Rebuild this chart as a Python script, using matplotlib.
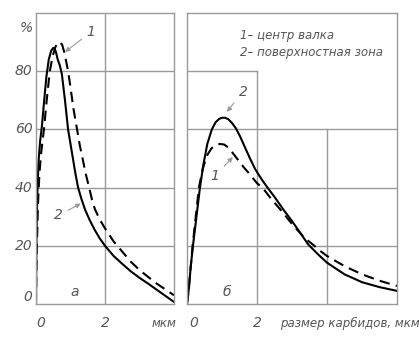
import matplotlib.pyplot as plt

# панель а: центр валка (1, штрих) и поверхностная зона (2, сплошная)
a_x_surf = [0, 0.005, 0.015, 0.03, 0.05, 0.08, 0.12, 0.17, 0.23, 0.3, 0.37, 0.44, 0.5, 0.54, 0.58,
            0.63, 0.69, 0.75, 0.84, 0.93, 1.0, 1.07, 1.14, 1.22, 1.32, 1.42, 1.55, 1.7, 1.85, 2.0,
            2.25, 2.5, 2.75, 3.0, 3.25, 3.5, 3.75, 4.0]
a_y_surf = [0, 10, 22, 33, 42, 50, 56, 61, 69, 78, 84, 87, 88, 87.8, 86.5,
            84, 82, 79, 70, 60, 55, 50, 45, 40, 36, 32.5, 29, 25.5, 22.5, 20,
            16.5, 13.8, 11.2, 9, 7, 4.9, 2.8, 0.7]
a_x_center = [0, 0.01, 0.03, 0.06, 0.1, 0.15, 0.23, 0.31, 0.4, 0.48, 0.56, 0.63, 0.7, 0.76, 0.82,
              0.88, 0.93, 1.0, 1.08, 1.19, 1.27, 1.35, 1.44, 1.54, 1.62, 1.71, 1.85, 2.0,
              2.25, 2.5, 2.75, 3.0, 3.25, 3.5, 3.75, 4.0]
a_y_center = [0, 10, 22, 35, 45, 52, 60, 70, 80, 85, 88.3, 89.7, 90, 89, 86.5,
              83, 80, 74.5, 67.5, 60, 54.5, 50, 44.8, 40, 36, 32.5, 29, 26,
              21.5, 18, 14.5, 11.7, 9.3, 7, 5, 3]

# панель б
b_x_surf = [0, 0.03, 0.06, 0.1, 0.17, 0.27, 0.37, 0.47, 0.58, 0.71, 0.82, 0.92, 1.0, 1.09, 1.18,
            1.28, 1.4, 1.52, 1.65, 1.8, 1.95, 2.14, 2.3, 2.5, 2.75, 3.0, 3.25, 3.46, 3.75, 4.0,
            4.5, 5.0, 5.5, 6.0]
b_y_surf = [0, 3, 6, 12, 20, 30, 40, 48, 55, 60, 62.5, 63.6, 64, 64, 63.5,
            62.3, 60.3, 57.5, 54, 50, 46.3, 42.7, 40, 36.8, 32.5, 28.5, 24.2, 20.5, 17, 14.2,
            10.2, 7.5, 5.8, 4.5]
b_x_center = [0, 0.03, 0.06, 0.1, 0.16, 0.25, 0.34, 0.45, 0.57, 0.7, 0.82, 0.94, 1.06, 1.18, 1.3,
              1.46, 1.62, 1.8, 2.0, 2.17, 2.4, 2.7, 3.0, 3.2, 3.37, 3.6, 3.8, 4.0,
              4.5, 5.0, 5.5, 6.0]
b_y_center = [0, 3, 7, 12, 20, 30, 40, 46.5, 51, 53.5, 54.6, 55, 54.8, 53.8, 52,
              49.5, 47, 44.5, 41.5, 39.8, 36.2, 32, 27.5, 24.8, 22.6, 20.4, 18.3, 16.5,
              13, 10.2, 8, 6.2]

y_ticks = [0, 20, 40, 60, 80]
legend_lines = ['1– центр валка', '2– поверхностная зона']

TXT = '#555555'
GRID = '#9a9a9a'
FONT = dict(family='DejaVu Sans', style='italic', color=TXT)

fig = plt.figure(figsize=(4.19, 3.38), dpi=100)
ax1 = fig.add_axes([36 / 419, 34 / 338, 138 / 419, 291 / 338])
ax2 = fig.add_axes([187 / 419, 34 / 338, 210 / 419, 291 / 338])

for ax, xmax in ((ax1, 4), (ax2, 6)):
    ax.set_xlim(0, xmax)
    ax.set_ylim(0, 100)
    for s in ax.spines.values():
        s.set_color(GRID)
        s.set_linewidth(1.0)
    ax.set_xticks([])
    ax.set_yticks([])

# сетка
for y in (20, 40, 60, 80):
    ax1.axhline(y, color=GRID, lw=1.0, zorder=0)
ax1.axvline(2, color=GRID, lw=1.0, zorder=0)
for y in (20, 40, 60):
    ax2.axhline(y, color=GRID, lw=1.0, zorder=0)
ax2.axhline(80, xmax=2 / 6, color=GRID, lw=1.0, zorder=0)
ax2.axvline(2, ymax=0.8, color=GRID, lw=1.0, zorder=0)
ax2.axvline(4, ymax=0.6, color=GRID, lw=1.0, zorder=0)

# кривые
ax1.plot(a_x_surf, a_y_surf, color='black', lw=1.5)
ax1.plot(a_x_center, a_y_center, color='black', lw=1.5, dashes=(5, 3))
ax2.plot(b_x_surf, b_y_surf, color='black', lw=1.5)
ax2.plot(b_x_center, b_y_center, color='black', lw=1.5, dashes=(5, 3))

# подписи осей
for y in y_ticks:
    ax1.text(-0.1, y + (2.5 if y == 0 else 0), str(y), ha='right', va='center', fontsize=10, **FONT)
ax1.text(-0.1, 95, '%', ha='right', va='center', fontsize=10, **FONT)
ax1.text(0.15, -4, '0', ha='center', va='top', fontsize=10, **FONT)
ax1.text(2.0, -4, '2', ha='center', va='top', fontsize=10, **FONT)
ax1.text(3.7, -4.5, 'мкм', ha='center', va='top', fontsize=8.5, **FONT)
ax2.text(0.2, -4, '0', ha='center', va='top', fontsize=10, **FONT)
ax2.text(2.0, -4, '2', ha='center', va='top', fontsize=10, **FONT)
ax2.text(2.66, -4.5, 'размер карбидов, мкм', ha='left', va='top', fontsize=8.5, clip_on=False, **FONT)

ax1.text(1.13, 4, 'а', ha='center', va='center', fontsize=10, **FONT)
ax2.text(1.14, 4, 'б', ha='center', va='center', fontsize=10, **FONT)

# легенда
ax2.text(1.51, 92.4, legend_lines[0], ha='left', va='center', fontsize=8.5, **FONT)
ax2.text(1.51, 86.3, legend_lines[1], ha='left', va='center', fontsize=8.5, **FONT)

# выноски
arrow = dict(arrowstyle='-|>', color=GRID, lw=0.8, mutation_scale=7, shrinkA=2, shrinkB=0)
ax1.annotate('1', xy=(0.84, 86.6), xytext=(1.6, 93.5), ha='center', va='center',
             fontsize=10, arrowprops=arrow, **FONT)
ax1.annotate('2', xy=(1.3, 34.5), xytext=(0.65, 30.5), ha='center', va='center',
             fontsize=10, arrowprops=arrow, **FONT)
ax2.annotate('2', xy=(1.14, 66), xytext=(1.6, 73), ha='center', va='center',
             fontsize=10, arrowprops=arrow, **FONT)
ax2.annotate('1', xy=(1.31, 50.5), xytext=(0.8, 44), ha='center', va='center',
             fontsize=10, arrowprops=arrow, **FONT)

fig.savefig('out.png', dpi=100)
